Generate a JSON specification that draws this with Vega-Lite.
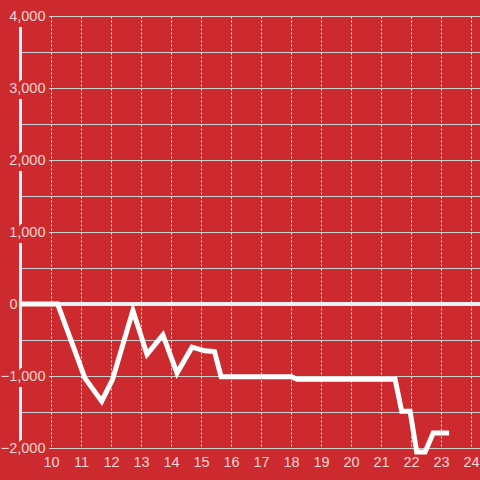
{
  "$schema": "https://vega.github.io/schema/vega-lite/v6.json",
  "width": 459,
  "height": 432,
  "autosize": {"type": "none"},
  "padding": {"left": 21, "top": 16, "right": 0, "bottom": 32},
  "background": "#cc2a2e",
  "config": {
    "view": {"stroke": null},
    "font": "Liberation Sans",
    "axis": {"labelFontSize": 14.5, "labelColor": "#f4d6d6", "ticks": false, "title": null, "labelFlush": false, "domain": false, "grid": false}
  },
  "datasets": {
    "series": [
      {"x": 9, "y": 0},
      {"x": 10.22, "y": 0},
      {"x": 11.13, "y": -1030},
      {"x": 11.69, "y": -1350},
      {"x": 12.05, "y": -1050},
      {"x": 12.73, "y": -90},
      {"x": 13.2, "y": -700},
      {"x": 13.73, "y": -430},
      {"x": 14.2, "y": -960},
      {"x": 14.7, "y": -600},
      {"x": 15.13, "y": -650},
      {"x": 15.45, "y": -660},
      {"x": 15.67, "y": -1010},
      {"x": 18.02, "y": -1010},
      {"x": 18.2, "y": -1046},
      {"x": 21.47, "y": -1046},
      {"x": 21.69, "y": -1490},
      {"x": 21.97, "y": -1490},
      {"x": 22.19, "y": -2055},
      {"x": 22.47, "y": -2055},
      {"x": 22.74, "y": -1792},
      {"x": 23.27, "y": -1792}
    ],
    "zero": [{"v": 0}]
  },
  "resolve": {"axis": {"y": "independent"}},
  "layer": [
    {
      "data": {"name": "zero"},
      "mark": {"type": "rule", "color": "#f4f0f0", "strokeWidth": 4},
      "encoding": {
        "y": {
          "field": "v", "type": "quantitative",
          "scale": {"domain": [-2000, 4000], "nice": false, "zero": false},
          "axis": {"orient": "left", "labels": false, "grid": true, "gridColor": "#cfcfcf", "gridWidth": 1, "gridOpacity": 1,
                   "values": [-2000, -1500, -1000, -500, 0, 500, 1000, 1500, 2000, 2500, 3000, 3500, 4000],
                   "domain": true, "domainColor": "#f4f2f2", "domainWidth": 3, "offset": 1}
        }
      }
    },
    {
      "data": {"name": "zero"},
      "mark": {"type": "rule", "color": "#f4f0f0", "strokeWidth": 4},
      "encoding": {
        "y": {
          "field": "v", "type": "quantitative",
          "axis": {"orient": "left", "values": [-2000, -1000, 1000, 2000, 3000, 4000], "format": ",.0f",
                   "labelAlign": "right", "labelPadding": -24, "labelColor": "#cc2a2e",
                   "encoding": {"labels": {"stroke": {"value": "#cc2a2e"}, "strokeWidth": {"value": 8}}}}
        }
      }
    },
    {
      "data": {"name": "series"},
      "mark": {"type": "line", "color": "#ffffff", "strokeWidth": 5, "clip": false},
      "encoding": {
        "x": {
          "field": "x", "type": "quantitative",
          "scale": {"domain": [9, 24.3], "nice": false, "zero": false},
          "axis": {"values": [10, 11, 12, 13, 14, 15, 16, 17, 18, 19, 20, 21, 22, 23, 24], "grid": true,
                   "gridColor": "#f2eeee", "gridDash": [2, 2], "gridWidth": 1, "gridOpacity": 1, "labelPadding": 7}
        },
        "y": {
          "field": "y", "type": "quantitative",
          "axis": {"orient": "left", "values": [-2000, -1000, 0, 1000, 2000, 3000, 4000], "format": ",.0f",
                   "labelAlign": "right", "labelPadding": -24,
                   "encoding": {"labels": {"dx": {"condition": {"test": "datum.value === 0", "value": -28}, "value": 0}}}}
        }
      }
    }
  ]
}
